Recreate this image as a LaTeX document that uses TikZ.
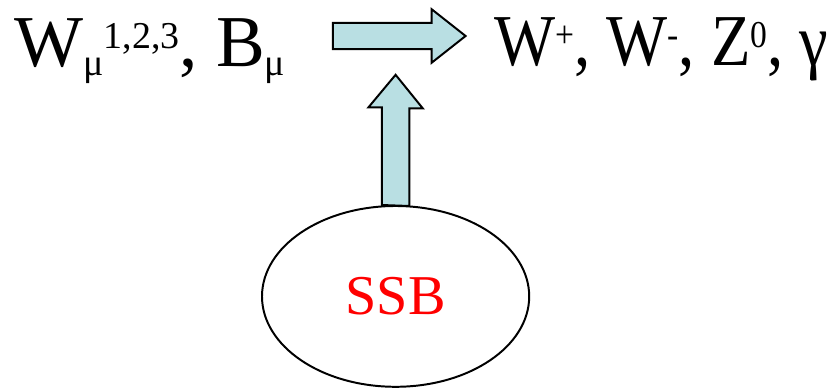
\documentclass[tikz,border=0pt]{standalone}
\usepackage{fontspec}
\setmainfont{Liberation Serif}
\newfontfamily\timesfont{Liberation Serif}
\usetikzlibrary{shapes.geometric,positioning}
\definecolor{arrowfill}{RGB}{185,223,227}
\newcommand{\hi}[1]{\raisebox{13pt}{\fontsize{27}{30}\selectfont #1}}
\newcommand{\lo}[1]{\raisebox{-6pt}{\fontsize{27}{30}\selectfont #1}}
\newcommand{\squeeze}[1]{\scalebox{0.885}[1]{#1}}

\begin{document}
\begin{tikzpicture}[
 lbl/.style={anchor=base west, inner sep=0pt, font=\timesfont\fontsize{52}{60}\selectfont},
 blob/.style={ellipse, draw, line width=1.4pt, minimum width=6.68cm, minimum height=4.52cm, inner sep=0pt, font=\timesfont\fontsize{40}{48}\selectfont, text=red},
 blockarr/.style={draw, line width=1.4pt, fill=arrowfill, line join=miter},
]
\useasboundingbox (0,0) rectangle (21,9.7);
\node[lbl] (gauge) at (0.35,8.03) {W\lo{μ}\hi{1,2,3}, B\lo{μ}};
\node[lbl] (phys) at (12.35,8.05) {\squeeze{W\hi{+}, W\hi{-}, Z\hi{0}, γ}};
\node[blob] (ssb) at (9.89,2.29) {SSB};
% symmetry breaking arrow
\coordinate (mixtail) at (8.32,8.80);
\coordinate (mixtip) at (11.64,8.80);
\draw[blockarr] (mixtail) ++(0,0.33) -- ++(2.47,0) -- ++(0,0.34) -- (mixtip)
 -- ++(-0.85,-0.67) -- ++(0,0.34) -- ++(-2.47,0) -- cycle;
% arrow from SSB
\coordinate (ssbtip) at (9.89,7.83);
\draw[blockarr] (ssb.north) ++(-0.345,0) -- ++(0,2.44) -- ++(-0.335,0) -- (ssbtip)
 -- ++(0.68,-0.84) -- ++(-0.335,0) -- ++(0,-2.44) -- cycle;
\end{tikzpicture}
\end{document}
